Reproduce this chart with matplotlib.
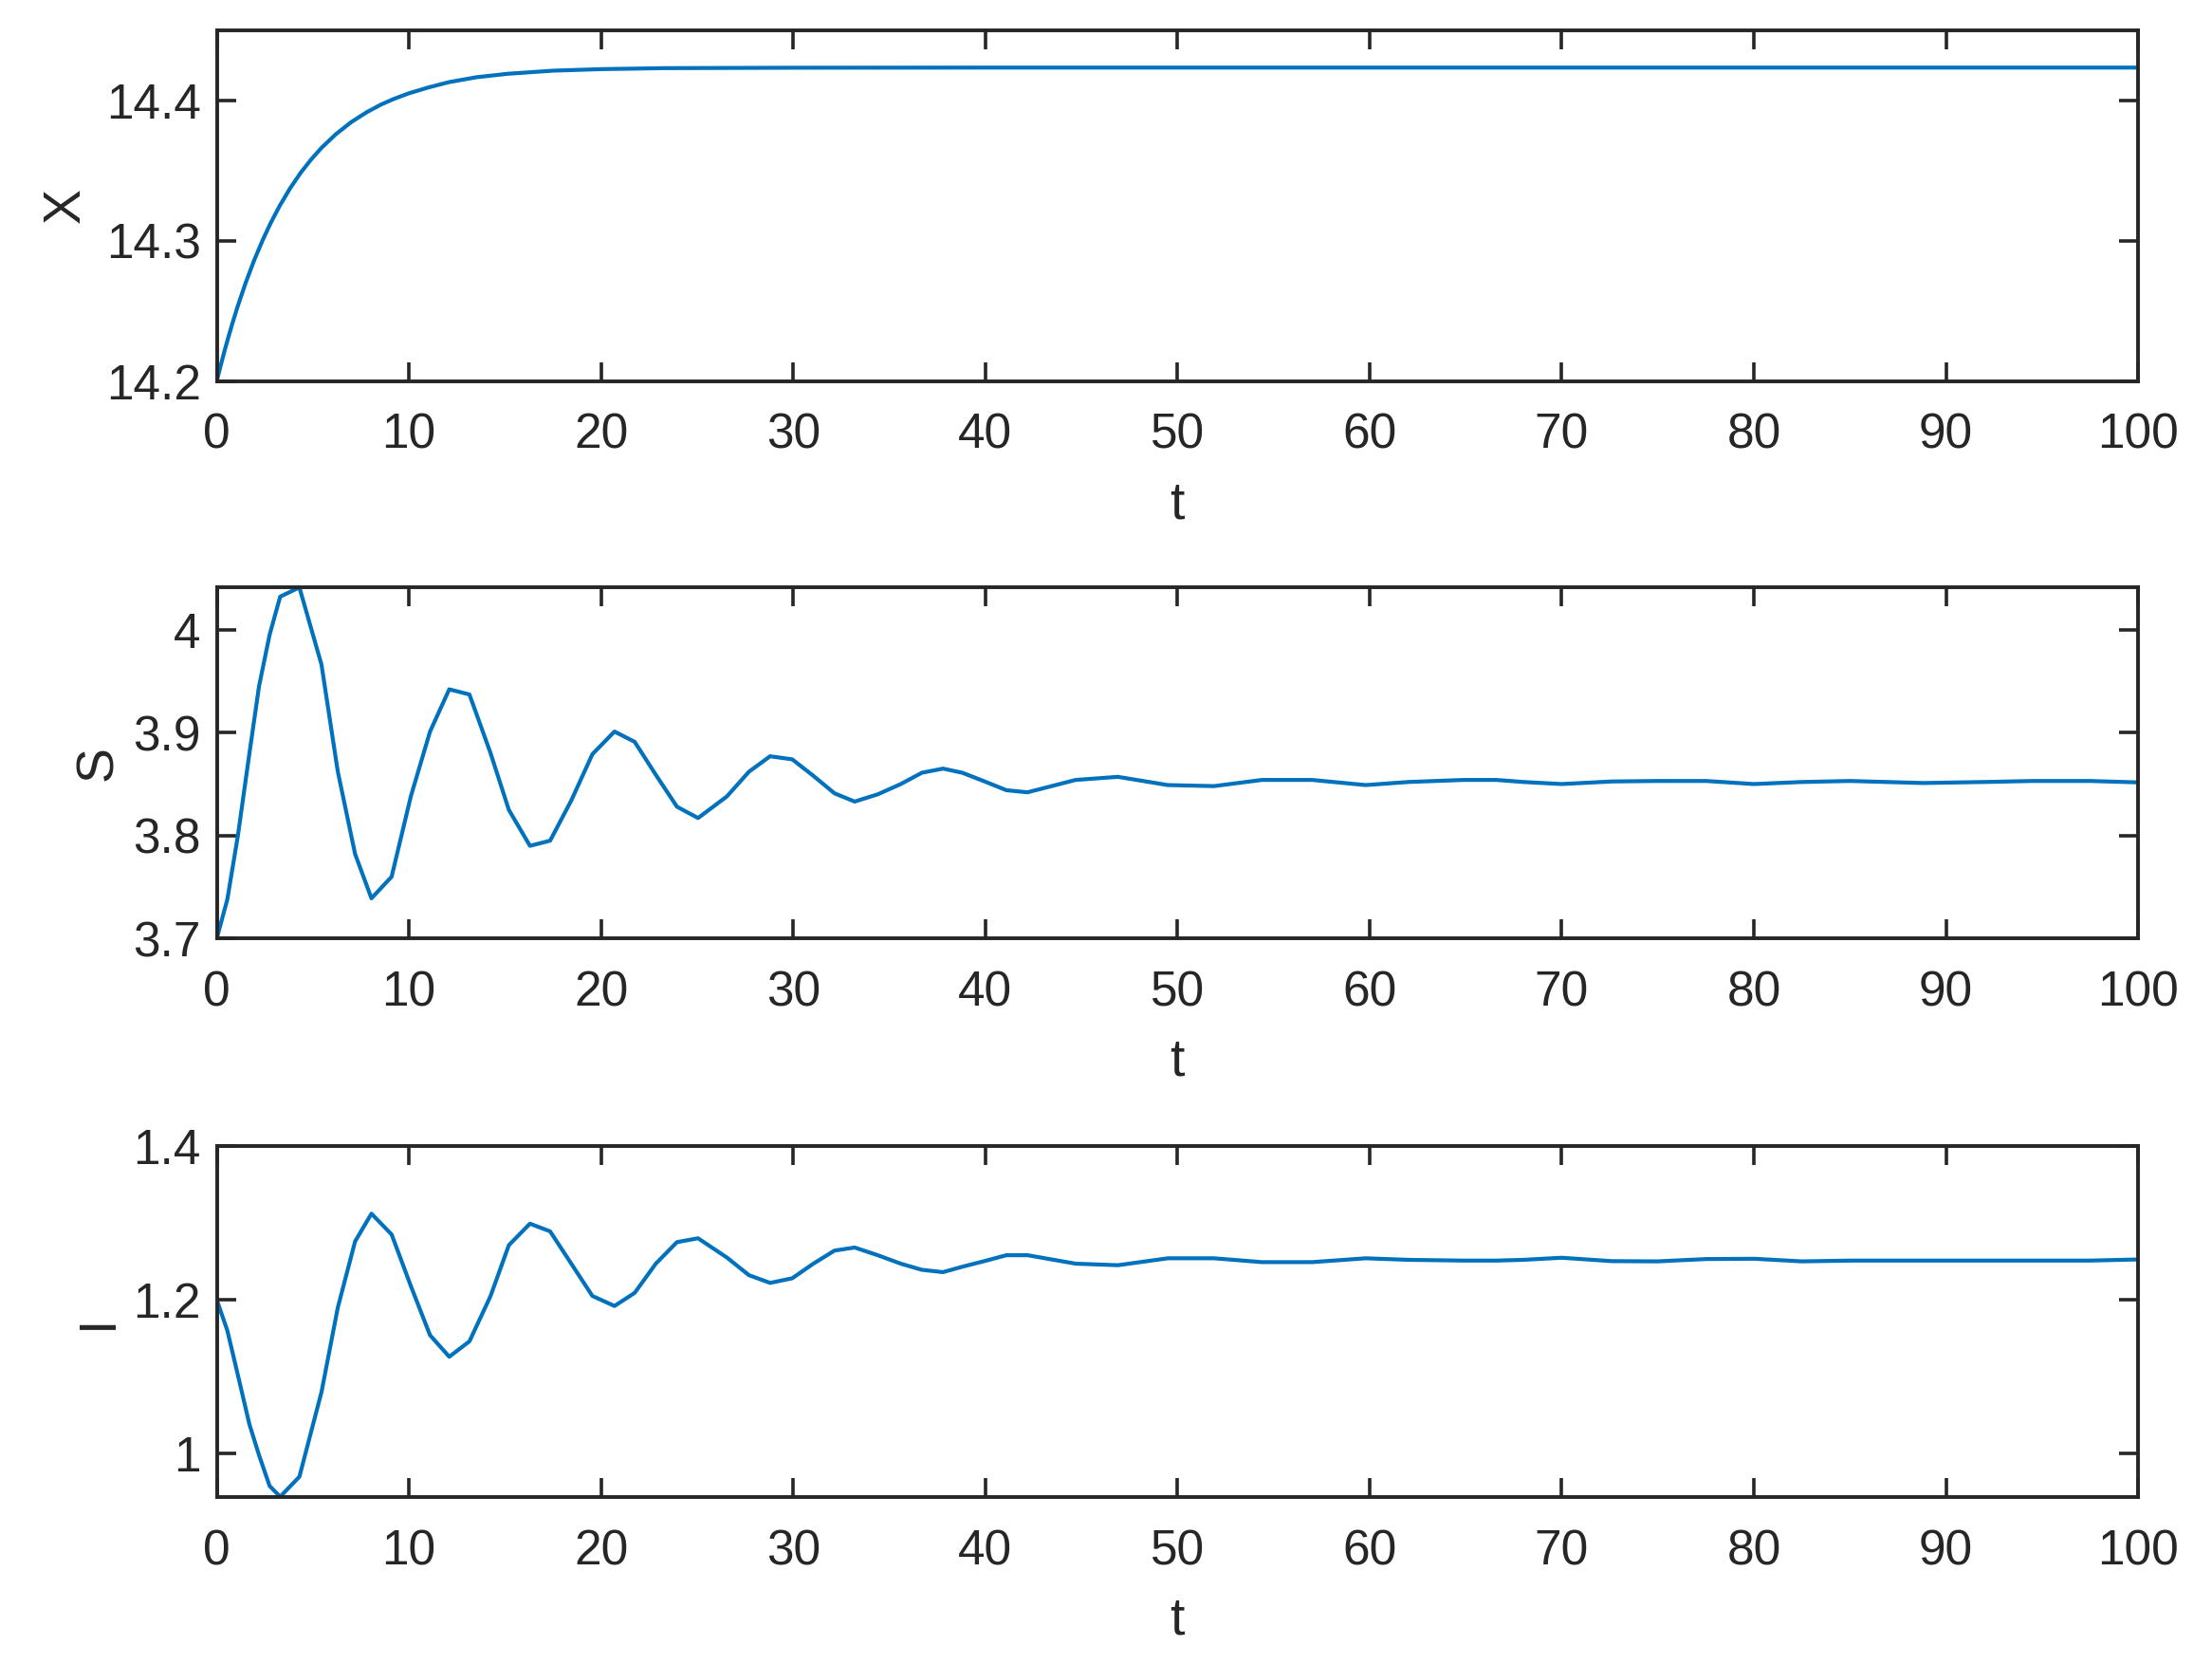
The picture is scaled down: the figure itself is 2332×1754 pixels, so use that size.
import matplotlib
matplotlib.use("Agg")
import matplotlib.pyplot as plt
from matplotlib.ticker import FuncFormatter

plt.rcParams['font.family'] = ['Liberation Sans', 'DejaVu Sans']

# ---------------- data ----------------
t_X = [0, 0.2, 0.4, 0.6, 0.84, 1.1, 1.5, 1.94, 2.4, 2.8, 3.26, 3.8, 4.36,
       4.9, 5.46, 6.2, 7.0, 7.8, 8.55, 9.2, 9.98, 11.0, 12.07, 13.5, 15.15,
       17.5, 20.0, 23.3, 30.0, 40.0, 60.0, 100.0]
X = [14.200, 14.2109, 14.2213, 14.2311, 14.2423, 14.2537, 14.2698, 14.2858,
     14.3007, 14.3124, 14.3244, 14.3369, 14.3482, 14.3576, 14.3662, 14.3758,
     14.3844, 14.3914, 14.3969, 14.4008, 14.4048, 14.4090, 14.4128, 14.4163,
     14.4188, 14.4210, 14.4221, 14.4228, 14.4231, 14.4232, 14.4232, 14.4232]

t_SI = [0, 0.55, 1.1, 1.7, 2.2, 2.75, 3.3, 4.3, 5.45, 6.3, 7.2, 8.05, 9.1,
        10.1, 11.1, 12.1, 13.15, 14.25, 15.2, 16.3, 17.35, 18.45, 19.55,
        20.7, 21.75, 22.85, 23.95, 25.05, 26.55, 27.7, 28.8, 29.95, 31.05,
        32.15, 33.2, 34.4, 35.6, 36.7, 37.8, 38.8, 39.9, 41.1, 42.2, 44.7,
        46.9, 49.5, 51.9, 54.4, 57.0, 59.8, 62.0, 64.9, 66.6, 68.0, 70.0,
        72.6, 75.0, 77.5, 80.0, 82.5, 85.0, 88.8, 92.0, 94.5, 97.5, 100.0]

S = [3.700, 3.738, 3.800, 3.880, 3.945, 3.995, 4.032, 4.041, 3.966, 3.862,
     3.782, 3.739, 3.760, 3.838, 3.901, 3.942, 3.937, 3.880, 3.825, 3.790,
     3.795, 3.834, 3.879, 3.901, 3.891, 3.859, 3.828, 3.817, 3.838, 3.862,
     3.877, 3.874, 3.858, 3.841, 3.833, 3.840, 3.850, 3.861, 3.865, 3.861,
     3.853, 3.844, 3.842, 3.854, 3.857, 3.849, 3.848, 3.854, 3.854, 3.849,
     3.852, 3.854, 3.854, 3.852, 3.850, 3.8525, 3.853, 3.853, 3.850, 3.852,
     3.853, 3.851, 3.852, 3.853, 3.853, 3.8516]

I = [1.200, 1.160, 1.102, 1.038, 0.998, 0.958, 0.944, 0.970, 1.080, 1.190,
     1.276, 1.312, 1.285, 1.218, 1.154, 1.126, 1.146, 1.205, 1.271, 1.299,
     1.289, 1.247, 1.205, 1.192, 1.209, 1.247, 1.275, 1.280, 1.255, 1.232,
     1.222, 1.228, 1.247, 1.264, 1.268, 1.258, 1.247, 1.239, 1.236, 1.243,
     1.250, 1.258, 1.258, 1.247, 1.245, 1.254, 1.254, 1.249, 1.249, 1.254,
     1.252, 1.251, 1.251, 1.252, 1.2547, 1.2503, 1.250, 1.253, 1.2534, 1.250,
     1.251, 1.251, 1.251, 1.251, 1.251, 1.2525]

x_ticks = [0, 10, 20, 30, 40, 50, 60, 70, 80, 90, 100]
X_ticks = [14.2, 14.3, 14.4]
S_ticks = [3.7, 3.8, 3.9, 4.0]
I_ticks = [1.0, 1.2, 1.4]
X_ylim = (14.2, 14.45)
S_ylim = (3.7, 4.041)
I_ylim = (0.9435, 1.4)
ylabels = ['X', 'S', 'I']

# ---------------- styling ----------------
LINE_C = '#0072BD'
AX_C = '#262626'

fig = plt.figure(figsize=(2332 / 200, 1754 / 200), dpi=200)
left, width, height = 0.098, 0.8686, 0.2110
bottoms = [0.7710, 0.4360, 0.1003]
label_x = [-0.0655, -0.0488, -0.0488]

series = [(t_X, X, X_ticks, X_ylim), (t_SI, S, S_ticks, S_ylim),
          (t_SI, I, I_ticks, I_ylim)]

fmt = FuncFormatter(lambda v, p: '%g' % round(v, 6))

for k, (tt, yy, yt, yl) in enumerate(series):
    ax = fig.add_axes([left, bottoms[k], width, height])
    ax.plot(tt, yy, color=LINE_C, lw=1.5, solid_joinstyle='round')
    ax.set_xlim(0, 100)
    ax.set_ylim(*yl)
    ax.set_xticks(x_ticks)
    ax.set_yticks(yt)
    ax.yaxis.set_major_formatter(fmt)
    ax.tick_params(axis='both', which='both', direction='in', top=True,
                   right=True, length=7.3, width=1.3, colors=AX_C,
                   labelsize=18.5)
    ax.tick_params(axis='x', pad=12)
    ax.tick_params(axis='y', pad=6)
    for sp in ax.spines.values():
        sp.set_color(AX_C)
        sp.set_linewidth(1.4)
    ax.set_xlabel('t', fontsize=20, color=AX_C, labelpad=8)
    ax.set_ylabel(ylabels[k], fontsize=20, color=AX_C)
    ax.yaxis.set_label_coords(label_x[k], 0.5)

fig.savefig('out.png', dpi=200, facecolor='white')
